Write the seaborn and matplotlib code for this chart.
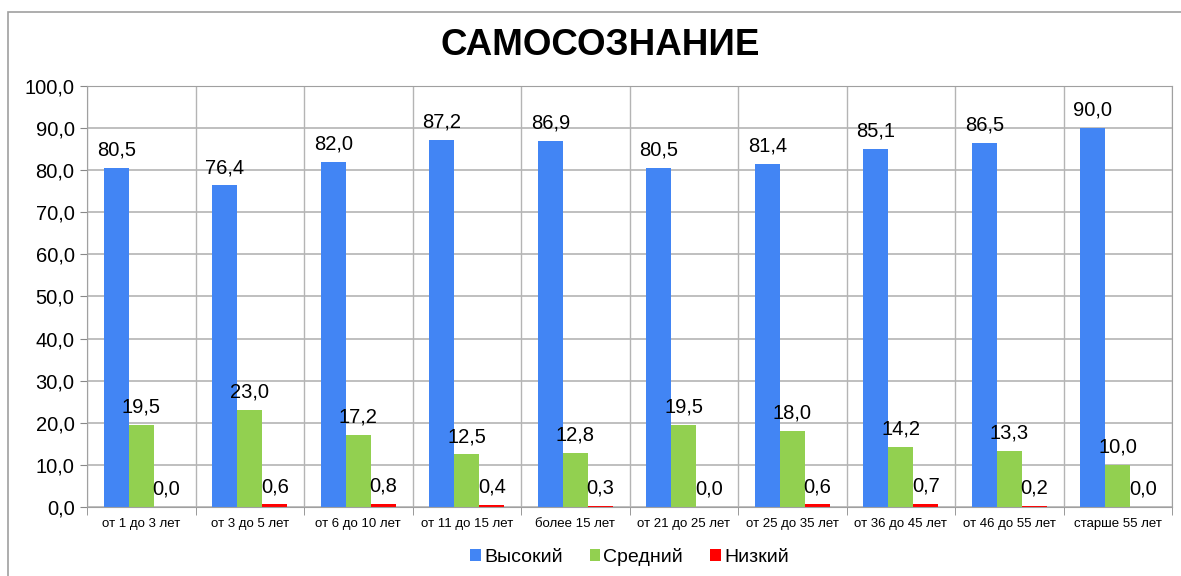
import pandas as pd
import matplotlib.pyplot as plt
import matplotlib.ticker as mticker
from matplotlib.patches import Rectangle
import seaborn as sns

# Data
groups = ['от 1 до 3 лет', 'от 3 до 5 лет', 'от 6 до 10 лет', 'от 11 до 15 лет',
          'более 15 лет', 'от 21 до 25 лет', 'от 25 до 35 лет', 'от 36 до 45 лет',
          'от 46 до 55 лет', 'старше 55 лет']
levels = ['Высокий', 'Средний', 'Низкий']
high = [80.5, 76.4, 82.0, 87.2, 86.9, 80.5, 81.4, 85.1, 86.5, 90.0]
mid = [19.5, 23.0, 17.2, 12.5, 12.8, 19.5, 18.0, 14.2, 13.3, 10.0]
low = [0.0, 0.6, 0.8, 0.4, 0.3, 0.0, 0.6, 0.7, 0.2, 0.0]
colors = ['#4285F4', '#92D050', '#FF0000']

df = pd.DataFrame({
    'group': groups * 3,
    'level': [levels[0]] * 10 + [levels[1]] * 10 + [levels[2]] * 10,
    'value': high + mid + low,
})

sns.set_style('white')
plt.rcParams['font.family'] = ['Liberation Sans', 'DejaVu Sans']
plt.rcParams['text.color'] = 'black'
plt.rcParams['xtick.color'] = 'black'
plt.rcParams['ytick.color'] = 'black'

fig = plt.figure(figsize=(11.81, 5.76), dpi=100)
ax = fig.add_axes([0.0737, 0.1198, 0.9187, 0.7309])

sns.barplot(data=df, x='group', y='value', hue='level', order=groups,
            hue_order=levels, palette=colors, width=0.69, saturation=1,
            edgecolor='none', ax=ax)

comma = lambda v: f'{v:.1f}'.replace('.', ',')
for cont in ax.containers:
    ax.bar_label(cont, labels=[comma(b.get_height()) for b in cont],
                 padding=6, fontsize=14.5, color='black')

# axes, grid and ticks
ax.set_ylim(0, 100)
ax.set_xlim(-0.5, len(groups) - 0.5)
ax.yaxis.set_major_locator(mticker.MultipleLocator(10))
ax.yaxis.set_major_formatter(mticker.FuncFormatter(lambda v, p: comma(v)))
ax.set_xticks([i - 0.5 for i in range(len(groups) + 1)], minor=True)
ax.grid(axis='y', color='#b4b4b4', linewidth=1.2)
ax.grid(axis='x', which='minor', color='#b4b4b4', linewidth=1.0)
ax.set_axisbelow(True)
ax.tick_params(axis='y', labelsize=14.5, length=5, color='#888888', pad=4, left=True)
ax.tick_params(axis='x', which='major', length=0, labelsize=9.5, pad=8)
ax.tick_params(axis='x', which='minor', length=6, color='#888888', bottom=True)
ax.set_xlabel('')
ax.set_ylabel('')
for side in ['top', 'right', 'left', 'bottom']:
    ax.spines[side].set_color('#a0a0a0')

# legend below
ax.legend(loc='upper center', bbox_to_anchor=(0.5, -0.055), ncol=3, frameon=False,
          fontsize=14, handlelength=0.55, handleheight=0.55, handletextpad=0.15,
          columnspacing=1.4)

fig.suptitle('САМОСОЗНАНИЕ', x=0.508, y=0.952, fontsize=26.5, fontweight='bold')

# outer chart frame
fig.patches.append(Rectangle((8 / 1181, -0.01), 1.02, 1 - 12 / 576 + 0.01,
                             transform=fig.transFigure, fill=False,
                             edgecolor='#a0a0a0', linewidth=1.2))

fig.savefig('out.png', dpi=100)
